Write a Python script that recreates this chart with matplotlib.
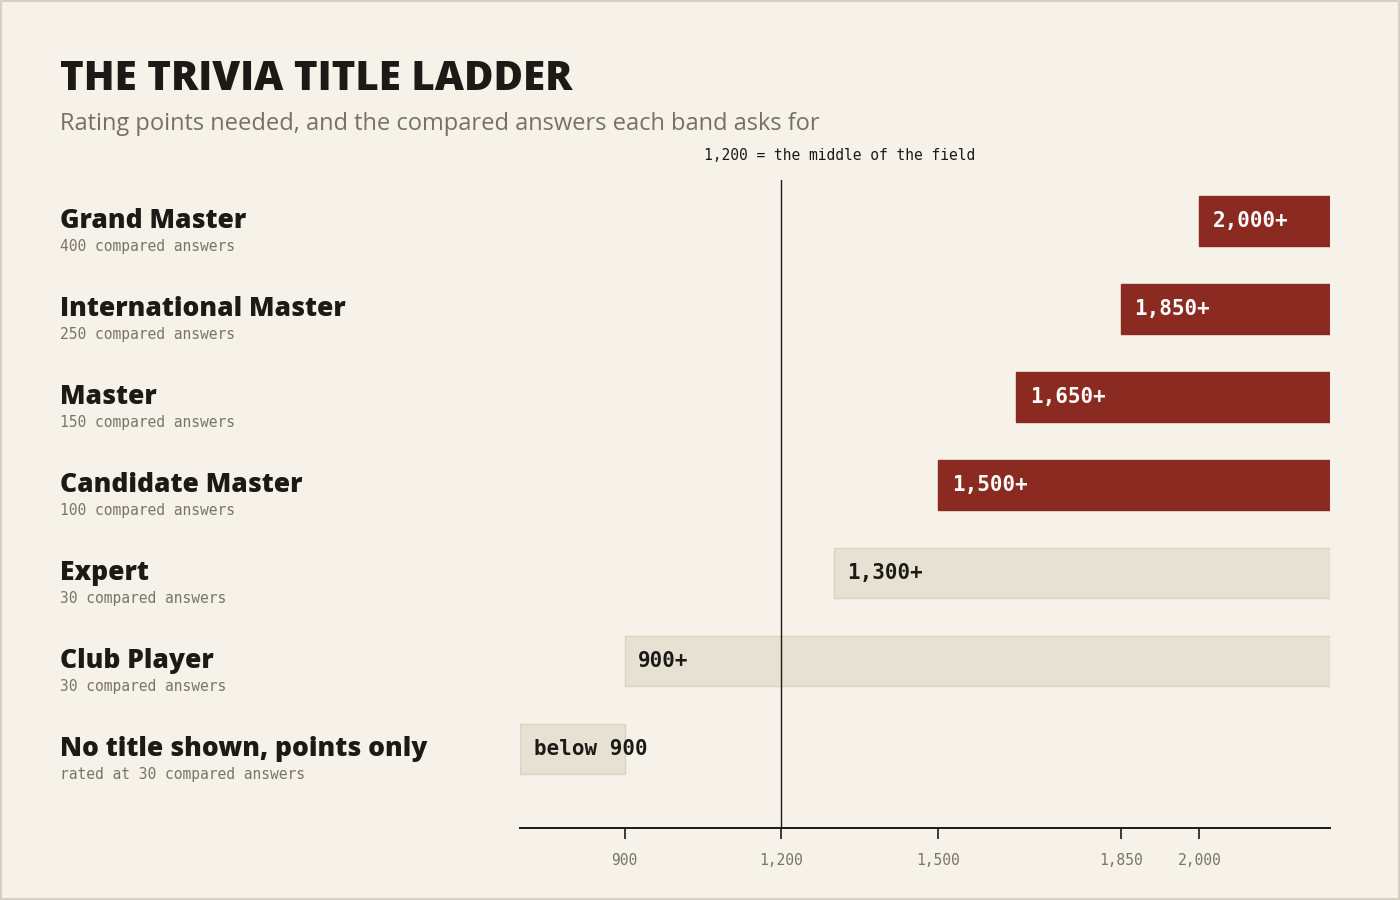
import matplotlib.pyplot as plt
from matplotlib.patches import Rectangle

titles = ["Grand Master", "International Master", "Master", "Candidate Master",
          "Expert", "Club Player", "No title shown, points only"]
answers = ["400 compared answers", "250 compared answers", "150 compared answers",
           "100 compared answers", "30 compared answers", "30 compared answers",
           "rated at 30 compared answers"]
starts = [2000, 1850, 1650, 1500, 1300, 900, 700]
ends = [2250, 2250, 2250, 2250, 2250, 2250, 900]
bar_labels = ["2,000+", "1,850+", "1,650+", "1,500+", "1,300+", "900+", "below 900"]
highlight = [True, True, True, True, False, False, False]
ticks = [900, 1200, 1500, 1850, 2000]
tick_labels = ["900", "1,200", "1,500", "1,850", "2,000"]
middle = 1200

BG = "#f6f2e9"
RED = "#8b2a20"
LIGHT = "#e7e1d3"
MONO = "DejaVu Sans Mono"
SANS = "Open Sans"

fig = plt.figure(figsize=(14, 9), dpi=100, facecolor=BG)
fig.patches.append(Rectangle((0, 0), 1, 1, transform=fig.transFigure, fill=False,
                             edgecolor="#d6d1c4", linewidth=3))
ax = fig.add_axes([520 / 1400, 1 - 828 / 900, 810 / 1400, 648 / 900])
ax.set_facecolor(BG)
ax.set_xlim(700, 2250)
ax.set_ylim(6.898, -0.466)

for i, (s, e, lab, hi) in enumerate(zip(starts, ends, bar_labels, highlight)):
    ax.barh(i, e - s, left=s, height=0.57, color=RED if hi else LIGHT,
            edgecolor=RED if hi else "#d9d3c3", linewidth=1, zorder=2)
    ax.text(s + 26, i, lab, family=MONO, weight="bold", fontsize=15,
            color="white" if hi else "#1c1a17", va="center", ha="left", zorder=4)

ax.axvline(middle, color="#1c1a17", linewidth=1, zorder=3)

for sp in ["top", "right", "left"]:
    ax.spines[sp].set_visible(False)
ax.spines["bottom"].set_color("#1c1a17")
ax.spines["bottom"].set_linewidth(1.4)
ax.set_yticks([])
ax.set_xticks(ticks)
ax.set_xticklabels(tick_labels, family=MONO, fontsize=10.5, color="#7a7466")
ax.tick_params(axis="x", length=8, width=1.2, color="#1c1a17", pad=10)

fig.text(840 / 1400, 1 - 156 / 900, "1,200 = the middle of the field", family=MONO,
         fontsize=10.5, color="#1c1a17", ha="center", va="center")

fig.text(60 / 1400, 1 - 80 / 900, "THE TRIVIA TITLE LADDER", family=SANS,
         weight="heavy", fontsize=29, color="#1c1a17", va="center")
fig.text(60 / 1400, 1 - 124 / 900, "Rating points needed, and the compared answers each band asks for",
         family=SANS, fontsize=17, color="#777063", va="center")

for i, (t, a) in enumerate(zip(titles, answers)):
    yc = 221 + 88 * i
    fig.text(60 / 1400, 1 - yc / 900, t, family=SANS, weight="heavy", fontsize=19,
             color="#1c1a17", va="center")
    fig.text(60 / 1400, 1 - (yc + 25) / 900, a, family=MONO, fontsize=10.5,
             color="#7a7466", va="center")

fig.savefig("out.png", dpi=100, facecolor=BG)
